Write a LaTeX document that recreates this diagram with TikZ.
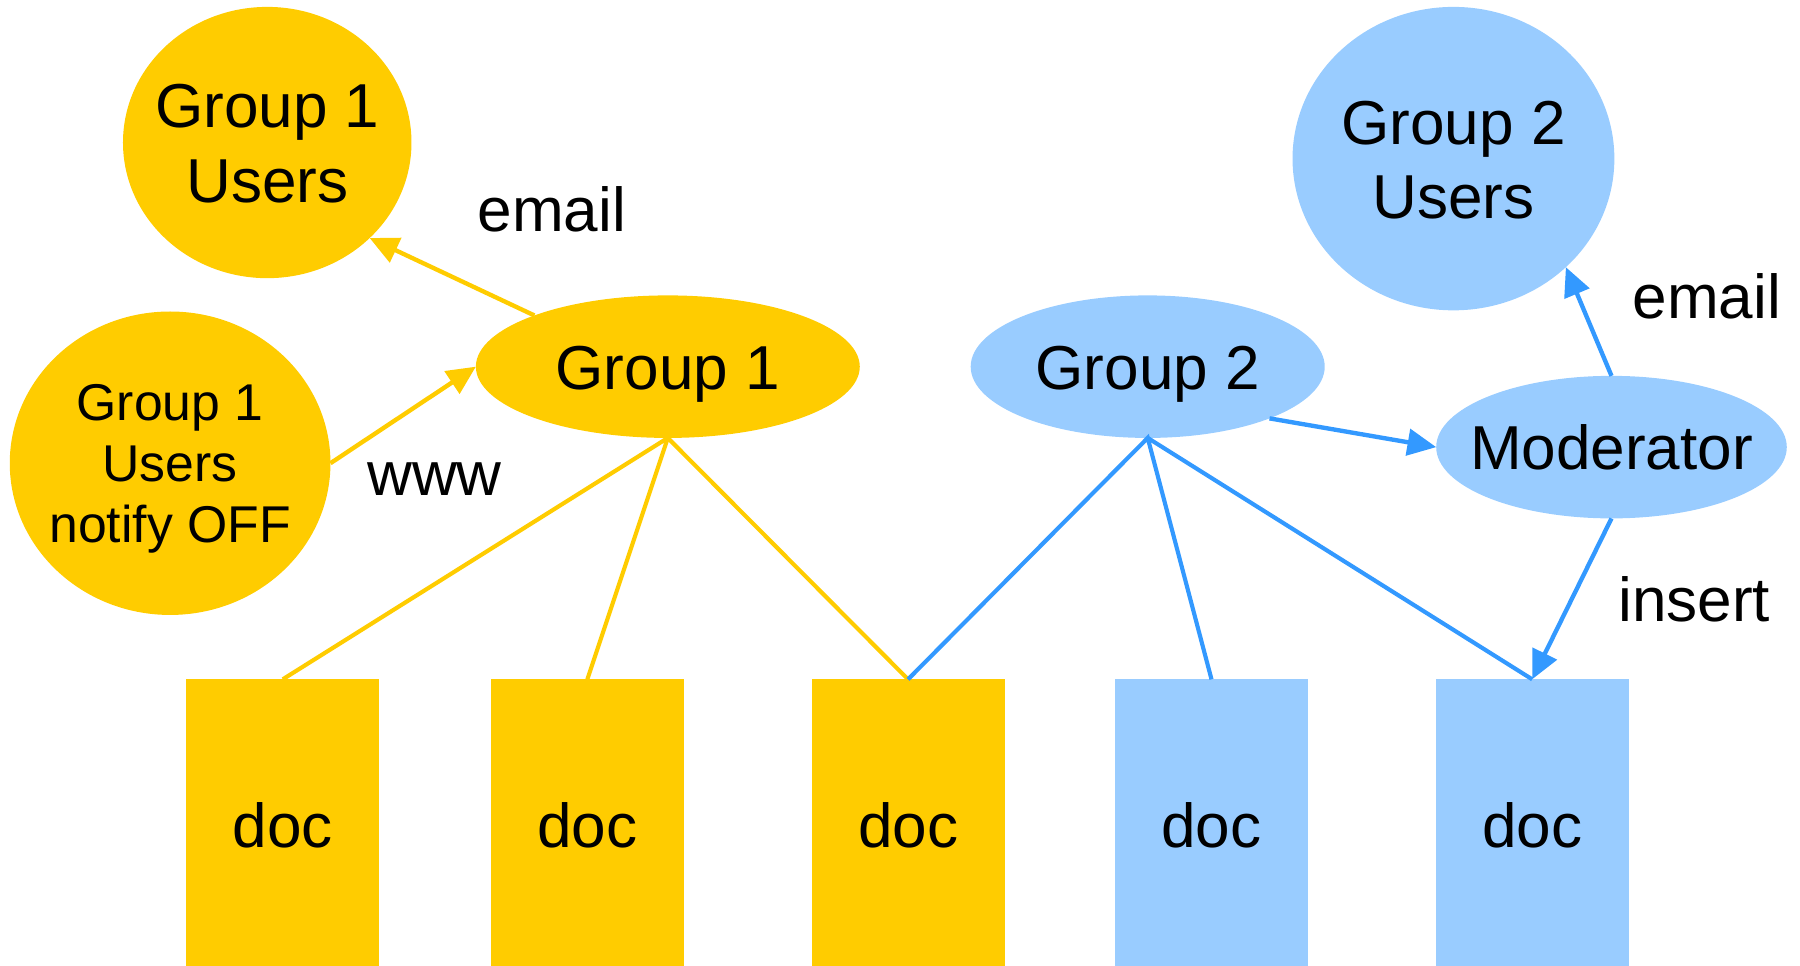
\documentclass[tikz,border=0pt]{standalone}
\usepackage{fontspec}
\setmainfont{Liberation Sans}
\usetikzlibrary{shapes.geometric,arrows.meta}
\definecolor{gold}{HTML}{FFCC00}
\definecolor{sky}{HTML}{99CCFF}
\definecolor{azure}{HTML}{3399FF}
\newcommand\bigfs{\fontsize{54}{65}\selectfont}
\newcommand\smallfs{\fontsize{45}{53}\selectfont}
\begin{document}
\begin{tikzpicture}[x=1pt,y=-1pt,
  txt/.style={align=center, text depth=0pt, inner sep=0pt, font=\bigfs},
  smalltxt/.style={txt, font=\smallfs},
  blob/.style={ellipse, draw=none, inner sep=0pt, outer sep=0pt},
  ynode/.style={blob, fill=gold},
  bnode/.style={blob, fill=sky},
  docbox/.style={rectangle, draw=none, inner sep=0pt, outer sep=0pt, minimum width=168pt, minimum height=254pt, text depth=0pt, font=\bigfs},
  lbl/.style={inner sep=0pt, font=\bigfs, anchor=base},
  yline/.style={draw=gold, line width=3.6pt},
  bline/.style={draw=azure, line width=3.6pt},
  yarrow/.style={draw=gold, line width=3.8pt, -{Triangle[length=25pt,width=23pt]}},
  barrow/.style={draw=azure, line width=3.8pt, -{Triangle[length=25pt,width=23pt]}},
]
\clip (0,0) rectangle (1566,840);

% ellipses
\node[ynode, minimum width=251pt, minimum height=236pt, label={[txt, yshift=-1pt]center:{Group 1\\Users}}] (g1u) at (232.5,124) {};
\node[ynode, minimum width=279pt, minimum height=264pt, label={[smalltxt]center:{Group 1\\Users\\notify OFF}}] (g1n) at (148,403) {};
\node[ynode, minimum width=334pt, minimum height=124pt, label={[txt, yshift=-1pt]center:{Group 1}}] (g1) at (581,319) {};
\node[bnode, minimum width=308pt, minimum height=124pt, label={[txt, yshift=-1pt]center:{Group 2}}] (g2) at (998.5,319) {};
\node[bnode, minimum width=280pt, minimum height=264pt, label={[txt, yshift=-1pt]center:{Group 2\\Users}}] (g2u) at (1264.5,138) {};
\node[bnode, minimum width=305pt, minimum height=124pt, label={[txt]center:{Moderator}}] (mod) at (1402,389) {};

% documents
\node[docbox, fill=gold] (d1) at (246,718) {doc};
\node[docbox, fill=gold] (d2) at (511,718) {doc};
\node[docbox, fill=gold] (d3) at (790,718) {doc};
\node[docbox, fill=sky] (d4) at (1054,718) {doc};
\node[docbox, fill=sky] (d5) at (1333,718) {doc};

% connectors
\draw[yarrow] (g1.159) -- (g1u.-43);
\draw[yarrow] (g1n.east) -- (g1.west);
\draw[yline] (d1.north) -- (g1.south) -- (d2.north);
\draw[yline] (g1.south) -- (d3.north);
\draw[bline] (d3.north) -- (g2.south) -- (d4.north);
\draw[bline] (g2.south) -- (d5.north);
\draw[barrow] (g2.-23) -- (mod.west);
\draw[barrow] (mod.north) -- (g2u.-44);
\draw[barrow] (mod.south) -- (d5.north);

% edge labels
\node[lbl] (lemail1) at (480,201) {email};
\node[lbl] (lwww) at (378,431) {www};
\node[lbl] (lemail2) at (1485,277) {email};
\node[lbl] (linsert) at (1474,541) {insert};
\end{tikzpicture}
\end{document}
